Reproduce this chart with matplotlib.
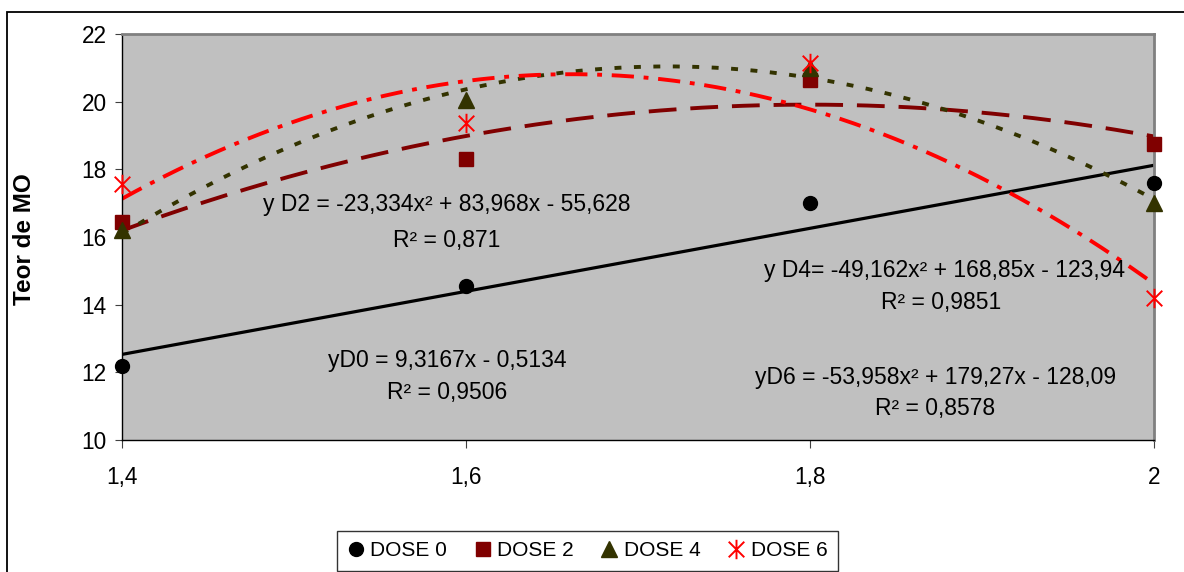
import numpy as np
import matplotlib
matplotlib.use("Agg")
import matplotlib.pyplot as plt
from matplotlib.path import Path
from matplotlib.patches import Rectangle

plt.rcParams['font.family'] = ['Liberation Sans', 'DejaVu Sans']
plt.rcParams['lines.scale_dashes'] = False

# measured values
doses_x = [1.4, 1.6, 1.8, 2.0]
dose0 = [12.2, 14.55, 17.0, 17.6]
dose2 = [16.45, 18.3, 20.65, 18.75]
dose4 = [16.2, 20.05, 21.0, 17.0]
dose6 = [17.57, 19.36, 21.15, 14.2]

# trendline coefficients (highest power first)
coef_d0 = [9.3167, -0.5134]
coef_d2 = [-23.334, 83.968, -55.628]
coef_d4 = [-49.162, 168.85, -123.94]
coef_d6 = [-53.958, 179.27, -128.09]

xtick_vals = [1.4, 1.6, 1.8, 2.0]
xtick_labels = ['1,4', '1,6', '1,8', '2']
ytick_vals = [10, 12, 14, 16, 18, 20, 22]

# star marker: X with a vertical bar
star = Path([(-1, -1), (1, 1), (-1, 1), (1, -1), (0, -1.25), (0, 1.25)],
            [Path.MOVETO, Path.LINETO, Path.MOVETO, Path.LINETO, Path.MOVETO, Path.LINETO])

W, H = 1184, 572
fig = plt.figure(figsize=(W / 100, H / 100), dpi=100)
ax = fig.add_axes([122 / W, 1 - 440 / H, (1154 - 122) / W, (440 - 34) / H])
ax.set_facecolor('#C0C0C0')

xx = np.linspace(1.4, 2.0, 300)
ax.plot(xx, np.polyval(coef_d0, xx), color='black', lw=2.3, solid_capstyle='butt')
ax.plot(xx, np.polyval(coef_d2, xx), color='#800000', lw=2.8, dashes=(20, 10), dash_capstyle='butt')
ax.plot(xx, np.polyval(coef_d4, xx), color='#333300', lw=2.8, dashes=(5, 9), dash_capstyle='butt')
ax.plot(xx, np.polyval(coef_d6, xx), color='#FF0000', lw=2.8, dashes=(16, 7, 3.5, 7), dash_capstyle='butt')

ax.plot(doses_x, dose0, 'o', color='black', ms=10, ls='none', clip_on=False, label='DOSE 0', zorder=5)
ax.plot(doses_x, dose2, 's', color='#800000', ms=10, ls='none', clip_on=False, label='DOSE 2', zorder=5)
ax.plot(doses_x, dose4, '^', color='#333300', ms=12, ls='none', clip_on=False, label='DOSE 4', zorder=5)
ax.plot(doses_x, dose6, marker=star, color='#FF0000', ms=14, mew=1.4, ls='none',
        clip_on=False, label='DOSE 6', zorder=6)

ax.set_xlim(1.4, 2.0)
ax.set_ylim(10, 22)
ax.set_xticks(xtick_vals)
ax.set_xticklabels(xtick_labels)
ax.set_yticks(ytick_vals)
ax.tick_params(axis='both', labelsize=16.3, direction='out', color='#404040')
ax.tick_params(axis='x', length=6, pad=13)
ax.tick_params(axis='y', length=5, pad=6)

for side in ['top', 'right']:
    ax.spines[side].set_color('#808080')
    ax.spines[side].set_linewidth(2)
for side in ['left', 'bottom']:
    ax.spines[side].set_color('black')
    ax.spines[side].set_linewidth(1)

ax.set_ylabel('Teor de MO', fontsize=17.5, fontweight='bold')
ax.yaxis.set_label_coords(-0.083, 0.495)

fs = 16.5
eqs = [
    (1.589, 16.95, 'y D2 = -23,334x² + 83,968x - 55,628'),
    (1.589, 15.91, 'R² = 0,871'),
    (1.589, 12.36, 'yD0 = 9,3167x - 0,5134'),
    (1.589, 11.39, 'R² = 0,9506'),
    (1.878, 15.02, 'y D4= -49,162x² + 168,85x - 123,94'),
    (1.876, 14.07, 'R² = 0,9851'),
    (1.873, 11.86, 'yD6 = -53,958x² + 179,27x - 128,09'),
    (1.873, 10.92, 'R² = 0,8578'),
]
for x, y, s in eqs:
    ax.text(x, y, s, fontsize=fs, ha='center', va='center')

leg = fig.legend(loc='upper left', bbox_to_anchor=(337 / W, 1 - 531 / H), ncol=4,
                 fontsize=15, frameon=True, fancybox=False, edgecolor='black',
                 handlelength=0.8, handletextpad=0.3, columnspacing=1.3,
                 borderpad=0.5, borderaxespad=0)
leg.get_frame().set_linewidth(1)

# outer chart border
fig.patches.append(Rectangle((7 / W, -0.2), 1.2, 1.2 - 12 / H, transform=fig.transFigure,
                             fill=False, ec='black', lw=1.3))

fig.savefig('out.png', dpi=100)
